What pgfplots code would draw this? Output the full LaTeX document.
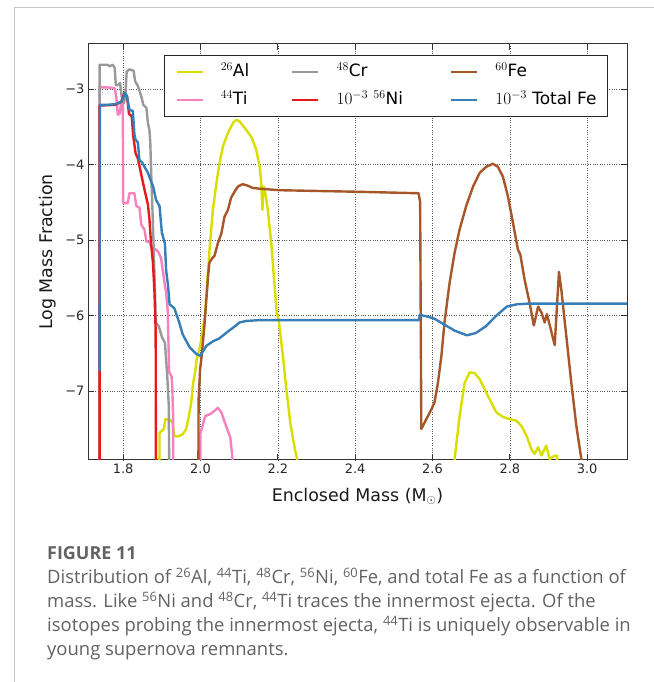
\documentclass[border=0pt]{standalone}
\usepackage{pgfplots}
\pgfplotsset{compat=1.18}
\usepackage{fontspec}
\setmainfont{DejaVu Sans}
\newfontfamily\capfont{Open Sans}
\definecolor{cAl}{HTML}{D8DE00}
\definecolor{cTi}{HTML}{F781BF}
\definecolor{cCr}{HTML}{999999}
\definecolor{cNi}{HTML}{E41A1C}
\definecolor{cFe}{HTML}{A65628}
\definecolor{cTot}{HTML}{377EB8}
\definecolor{capgray}{HTML}{626262}
\begin{document}
\begin{tikzpicture}[x=1bp,y=1bp]
\path[use as bounding box] (0,0) rectangle (654,682);
\draw[black!22, line width=0.8bp] (14.6,0) -- (14.6,675) -- (654,675);
\begin{axis}[
  at={(88bp,222bp)}, anchor=south west,
  scale only axis, width=539bp, height=416bp,
  xmin=1.709, xmax=3.103, ymin=-7.91, ymax=-2.405,
  xtick={1.8,2,2.2,2.4,2.6,2.8,3},
  xticklabels={1.8,2.0,2.2,2.4,2.6,2.8,3.0},
  ytick={-7,-6,-5,-4,-3},
  yticklabels={−7,−6,−5,−4,−3},
  grid=major,
  grid style={dotted, black!65, line width=0.6bp},
  axis line style={black!80, line width=1bp},
  tick style={black!80, line width=0.8bp},
  major tick length=6bp,
  tick label style={font=\fontsize{13}{15}\selectfont, text=black!85},
  label style={font=\fontsize{17.5}{20}\selectfont, text=black!90},
  xlabel={Enclosed Mass (M$_\odot$)},
  ylabel={Log Mass Fraction},
  xlabel style={at={(axis description cs:0.5,-0.0986)}, anchor=base},
  ylabel style={at={(axis description cs:-0.0659,0.5)}, anchor=base},
  no markers,
  every axis plot/.append style={line width=2.4bp, line join=round},
  legend columns=3,
  legend cell align=left,
  legend image code/.code={\draw[#1] (0bp,0bp) -- (26bp,0bp);},
  legend style={
    at={(axis description cs:0.9647,0.9736)}, anchor=north east,
    draw=black!85, line width=1bp,
    font=\fontsize{17}{20}\selectfont,
    inner xsep=11bp, inner ysep=8bp,
    nodes={inner xsep=0pt, inner ysep=0pt, text height=13bp, text depth=3.5bp},
    row sep=12bp,
    /tikz/every odd column/.append style={column sep=17bp},
    /tikz/column 2/.append style={column sep=42bp},
    /tikz/column 4/.append style={column sep=47bp},
  },
]
\addlegendimage{cAl, line width=2.4bp}\addlegendentry{$^{26}$Al}
\addlegendimage{cCr, line width=2.4bp}\addlegendentry{$^{48}$Cr}
\addlegendimage{cFe, line width=2.4bp}\addlegendentry{$^{60}$Fe}
\addlegendimage{cTi, line width=2.4bp}\addlegendentry{$^{44}$Ti}
\addlegendimage{cNi, line width=2.4bp}\addlegendentry{$10^{-3}$ $^{56}$Ni}
\addlegendimage{cTot, line width=2.4bp}\addlegendentry{$10^{-3}$ Total Fe}

% 26Al
\addplot[cAl, forget plot] coordinates {
(1.893,-9) (1.894,-7.55) (1.905,-7.50) (1.909,-7.37) (1.920,-7.38) (1.928,-7.41)
(1.932,-7.59) (1.941,-7.60) (1.954,-7.57) (1.963,-7.50) (1.970,-7.33) (1.976,-7.15)
(1.981,-6.89) (1.986,-6.75) (1.990,-6.58) (1.999,-6.40) (2.006,-6.18) (2.012,-5.96)
(2.018,-5.52) (2.024,-5.08) (2.032,-4.60) (2.041,-4.25) (2.049,-3.98) (2.058,-3.76)
(2.071,-3.58) (2.084,-3.45) (2.092,-3.41) (2.101,-3.43) (2.118,-3.54) (2.131,-3.63)
(2.144,-3.80) (2.153,-4.03) (2.157,-4.24) (2.160,-4.60) (2.163,-4.29) (2.166,-4.32)
(2.174,-4.60) (2.183,-5.04) (2.191,-5.57) (2.197,-5.96) (2.202,-6.05) (2.213,-6.53)
(2.221,-6.93) (2.232,-7.41) (2.244,-7.77) (2.250,-7.90) (2.255,-9)
};
\addplot[cAl, forget plot] coordinates {
(2.655,-9) (2.657,-7.90) (2.670,-7.33) (2.683,-6.89) (2.696,-6.75) (2.709,-6.76)
(2.722,-6.84) (2.743,-7.06) (2.765,-7.28) (2.782,-7.34) (2.800,-7.37) (2.817,-7.39)
(2.830,-7.46) (2.843,-7.59) (2.856,-7.77) (2.864,-7.83) (2.873,-7.74) (2.882,-7.85)
(2.894,-7.72) (2.903,-7.90) (2.913,-7.86) (2.922,-7.85) (2.927,-9)
};
% 44Ti
\addplot[cTi, forget plot] coordinates {
(1.739,-9) (1.739,-2.98) (1.760,-2.98) (1.778,-2.99) (1.782,-3.10) (1.786,-3.34)
(1.791,-3.33) (1.794,-3.20) (1.799,-3.12) (1.800,-4.51) (1.812,-4.51) (1.816,-4.38)
(1.829,-4.38) (1.834,-4.55) (1.842,-4.57) (1.847,-4.80) (1.855,-4.86) (1.860,-5.02)
(1.868,-5.02) (1.872,-5.08) (1.890,-5.15) (1.898,-5.24) (1.902,-5.39) (1.907,-5.57)
(1.911,-5.70) (1.915,-5.92) (1.919,-6.75) (1.925,-6.80) (1.927,-6.95) (1.929,-7.30)
(1.930,-9)
};
\addplot[cTi, forget plot] coordinates {
(1.999,-9) (2.000,-7.55) (2.003,-7.50) (2.012,-7.33) (2.026,-7.30) (2.036,-7.26)
(2.045,-7.22) (2.054,-7.28) (2.066,-7.46) (2.077,-7.61) (2.083,-7.90) (2.085,-9)
};
% 48Cr
\addplot[cCr, forget plot] coordinates {
(1.739,-9) (1.739,-2.68) (1.760,-2.68) (1.765,-2.70) (1.773,-2.68) (1.778,-2.72)
(1.781,-2.95) (1.787,-2.95) (1.792,-2.92) (1.796,-3.10) (1.802,-3.19) (1.806,-3.05)
(1.809,-2.77) (1.816,-2.74) (1.827,-2.76) (1.831,-2.90) (1.838,-2.96) (1.847,-3.10)
(1.852,-3.21) (1.860,-3.25) (1.864,-3.45) (1.868,-3.55) (1.870,-3.70) (1.873,-4.20)
(1.877,-4.80) (1.880,-5.30) (1.883,-5.80) (1.884,-6.09) (1.892,-6.14) (1.900,-6.28)
(1.908,-6.36) (1.914,-6.80) (1.918,-7.20) (1.920,-9)
};
% 56Ni x 1e-3
\addplot[cNi, forget plot] coordinates {
(1.739,-9) (1.739,-3.22) (1.780,-3.21) (1.795,-3.17) (1.803,-3.05) (1.810,-3.10)
(1.815,-3.33) (1.822,-3.36) (1.826,-3.62) (1.832,-3.85) (1.838,-3.92) (1.847,-4.14)
(1.855,-4.33) (1.864,-4.53) (1.868,-4.73) (1.872,-5.04) (1.877,-5.30) (1.881,-5.70)
(1.884,-6.20) (1.885,-9)
};
% 60Fe
\addplot[cFe, forget plot] coordinates {
(1.994,-9) (1.995,-7.11) (1.999,-6.71) (2.003,-6.53) (2.010,-6.14) (2.015,-5.79)
(2.020,-5.45) (2.023,-5.30) (2.030,-5.24) (2.036,-5.21) (2.045,-5.04) (2.054,-4.91)
(2.062,-4.69) (2.071,-4.60) (2.079,-4.44) (2.088,-4.36) (2.097,-4.29) (2.109,-4.26)
(2.122,-4.28) (2.135,-4.31) (2.153,-4.32) (2.204,-4.34) (2.400,-4.36) (2.564,-4.38)
(2.568,-4.50) (2.571,-7.50) (2.584,-7.37) (2.597,-7.24) (2.605,-7.15) (2.614,-6.89)
(2.623,-6.53) (2.631,-6.09) (2.644,-5.57) (2.657,-5.17) (2.670,-4.86) (2.687,-4.55)
(2.705,-4.29) (2.722,-4.11) (2.739,-4.03) (2.756,-3.99) (2.769,-4.03) (2.782,-4.16)
(2.795,-4.42) (2.808,-4.77) (2.821,-5.13) (2.827,-5.19) (2.838,-5.52) (2.851,-5.83)
(2.862,-6.13) (2.873,-5.88) (2.882,-5.96) (2.890,-6.09) (2.896,-5.98) (2.916,-6.39)
(2.927,-5.42) (2.933,-5.65) (2.946,-6.27) (2.959,-6.89) (2.972,-7.46) (2.985,-7.90)
(2.988,-9)
};
% Total Fe x 1e-3
\addplot[cTot, forget plot] coordinates {
(1.739,-6.73) (1.740,-3.21) (1.760,-3.21) (1.781,-3.20) (1.795,-3.17) (1.800,-3.12)
(1.805,-3.05) (1.810,-3.10) (1.814,-3.22) (1.817,-3.28) (1.825,-3.29) (1.829,-3.60)
(1.832,-3.67) (1.838,-3.71) (1.842,-3.94) (1.850,-3.98) (1.855,-4.03) (1.864,-4.11)
(1.872,-4.22) (1.878,-4.30) (1.885,-4.47) (1.894,-4.55) (1.900,-4.90) (1.908,-5.05)
(1.911,-5.40) (1.916,-5.60) (1.920,-5.85) (1.932,-5.90) (1.945,-6.09) (1.954,-6.25)
(1.972,-6.42) (1.990,-6.51) (1.999,-6.53) (2.008,-6.46) (2.015,-6.40) (2.032,-6.34)
(2.049,-6.30) (2.066,-6.23) (2.084,-6.16) (2.101,-6.09) (2.118,-6.07) (2.150,-6.06)
(2.565,-6.06) (2.567,-5.99) (2.585,-6.01) (2.605,-6.04) (2.631,-6.12) (2.658,-6.20)
(2.689,-6.26) (2.712,-6.23) (2.738,-6.14) (2.765,-6.00) (2.792,-5.88) (2.818,-5.85)
(2.850,-5.84) (3.110,-5.84)
};
\end{axis}
\node[anchor=base west, inner sep=0pt, text=capgray, font=\capfont\bfseries\fontsize{18}{20}\selectfont] at (47,122) {FIGURE 11};
\begin{scope}[every node/.style={anchor=base west, inner sep=0pt, text=capgray, font=\capfont\fontsize{18.5}{22}\selectfont}]
\node at (47,98.7) {Distribution of \textsuperscript{26}Al, \textsuperscript{44}Ti, \textsuperscript{48}Cr, \textsuperscript{56}Ni, \textsuperscript{60}Fe, and total Fe as a function of};
\node at (47,74.7) {mass. Like \textsuperscript{56}Ni and \textsuperscript{48}Cr, \textsuperscript{44}Ti traces the innermost ejecta. Of the};
\node at (47,50.3) {isotopes probing the innermost ejecta, \textsuperscript{44}Ti is uniquely observable in};
\node at (47,26) {young supernova remnants.};
\end{scope}
\end{tikzpicture}
\end{document}
